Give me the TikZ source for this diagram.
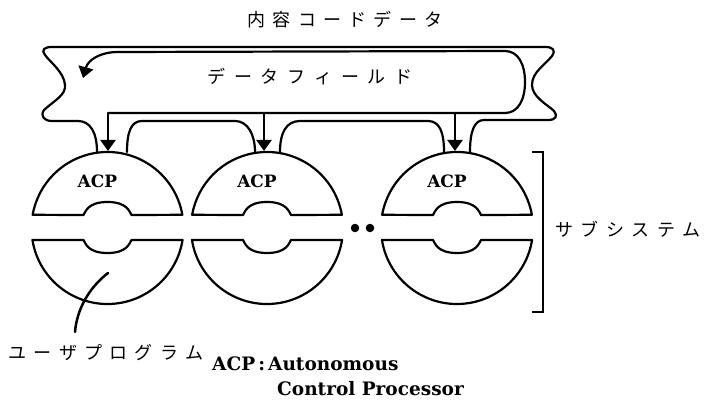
\documentclass[tikz,border=0pt]{standalone}
\usepackage{fontspec}
\newfontfamily\jpfont{Noto Sans CJK JP}
\newfontfamily\latfont{DejaVu Serif}
\usetikzlibrary{arrows.meta}
\makeatletter
\newcommand\spacedtext[2]{\def\st@gap{#1}\st@first#2\@nil}
\def\st@first#1{\ifx#1\@nil\else#1\expandafter\st@rest\fi}
\def\st@rest#1{\ifx#1\@nil\else\kern\st@gap#1\expandafter\st@rest\fi}
\makeatother
\tikzset{
  outline/.style={draw, line width=2.2pt, line join=round, line cap=round},
  flowarrow/.style={draw, line width=2.2pt, -{Triangle[width=15pt,length=11pt]}},
  jptext/.style={font=\jpfont\fontsize{18}{18}\selectfont, inner sep=0pt},
  acplabel/.style={font=\latfont\bfseries\fontsize{17}{17}\selectfont, inner sep=0pt},
  deftext/.style={font=\latfont\bfseries\fontsize{18.5}{18.5}\selectfont, inner sep=0pt, anchor=west},
  dotnode/.style={circle, fill, inner sep=0pt, minimum size=8.5pt},
}
\newcommand\acpunit[2]{%
  % upper half
  \draw[outline] (#1+24,-215) -- (#1+74.85,-214.8) arc (10:170:76) -- (#1-24,-215)
    .. controls (#1-22,-212) and (#1-20,-202) .. (#1,-202)
    .. controls (#1+20,-202) and (#1+22,-212) .. (#1+24,-215) -- cycle;
  % lower half
  \draw[outline] (#1-24,-240) -- (#1-75.05,-240) arc (189.08:350.92:76) -- (#1+24,-240)
    .. controls (#1+22,-243) and (#1+20,-253) .. (#1,-253)
    .. controls (#1-20,-253) and (#1-22,-243) .. (#1-24,-240) -- cycle;
  \node[acplabel] (#2) at (#1-10,-181) {ACP};
}
\begin{document}
\begin{tikzpicture}[x=1pt,y=1pt]
\useasboundingbox (0,0) rectangle (704,-401);

% ACP units
\acpunit{107.5}{acpA}
\acpunit{267}{acpB}
\acpunit{457}{acpC}

% outer band (content code data)
\draw[outline] (97,-152) .. controls (97,-132) and (90,-121) .. (78,-121)
  -- (52,-121) .. controls (44,-121) and (40,-116) .. (44,-110)
  .. controls (55,-100) and (66,-95) .. (65,-85)
  .. controls (64,-72) and (50,-62) .. (45,-55)
  .. controls (41,-50) and (44,-47) .. (52,-47)
  -- (545,-47) .. controls (553,-47) and (556,-50) .. (552,-56)
  .. controls (545,-65) and (532,-72) .. (532,-85)
  .. controls (532,-97) and (548,-105) .. (554,-111)
  .. controls (558,-116) and (556,-120) .. (548,-120)
  -- (484,-120) .. controls (474,-120) and (470,-132) .. (470,-152);
\draw[outline] (444,-152) .. controls (444,-133) and (440,-121) .. (428,-121)
  -- (300,-121) .. controls (286,-121) and (280,-133) .. (280,-152);
\draw[outline] (255,-152) .. controls (255,-135) and (248,-121) .. (235,-121)
  -- (142,-121) .. controls (131,-121) and (127,-132) .. (127,-152);

% inner band (data field) with returning arrow
\coordinate (inA) at (108,-113);
\coordinate (inB) at (264,-113);
\coordinate (inC) at (455,-113);
\coordinate (ret) at (83,-78);
\draw[outline, -{Triangle[width=15pt,length=11pt]}] (inA) -- (505,-113)
  .. controls (518,-113) and (525,-100) .. (525,-82)
  .. controls (525,-64) and (518,-51) .. (505,-51)
  -- (118,-52) .. controls (100,-52) and (88,-60) .. (ret);

% arrows into ACPs
\coordinate (tA) at (108,-151);
\coordinate (tB) at (264,-151);
\coordinate (tC) at (455,-151);
\draw[flowarrow] (inA) -- (tA);
\draw[flowarrow] (inB) -- (tB);
\draw[flowarrow] (inC) -- (tC);

% dots
\node[dotnode] (dotA) at (355,-228) {};
\node[dotnode] (dotB) at (370,-228) {};

% bracket
\coordinate (brT) at (532,-152);
\coordinate (brB) at (532,-312);
\draw[line width=2.8pt, line join=miter] (brT) -- (543,-152) -- (543,-312) -- (brB);

% texts
\node[jptext] (content) at (345,-20) {\spacedtext{7.3pt}{内容コードデータ}};
\node[jptext] (field) at (310,-77) {\spacedtext{8.7pt}{データフィールド}};
\node[jptext] (subsys) at (628,-229) {\spacedtext{7.5pt}{サブシステム}};
\node[jptext] (userprog) at (106,-353) {\spacedtext{7.3pt}{ユーザプログラム}};

% pointer to user program
\coordinate (ptrS) at (108,-273);
\coordinate (ptrE) at (75,-332);
\draw[line width=2.5pt, line cap=round] (ptrS) .. controls (90,-287) and (77,-308) .. (ptrE);

% definition
\node[deftext] (acpdef) at (212,-364) {ACP\,:\,Autonomous};
\node[deftext] (acpdef2) at (277,-389) {Control Processor};
\end{tikzpicture}
\end{document}
